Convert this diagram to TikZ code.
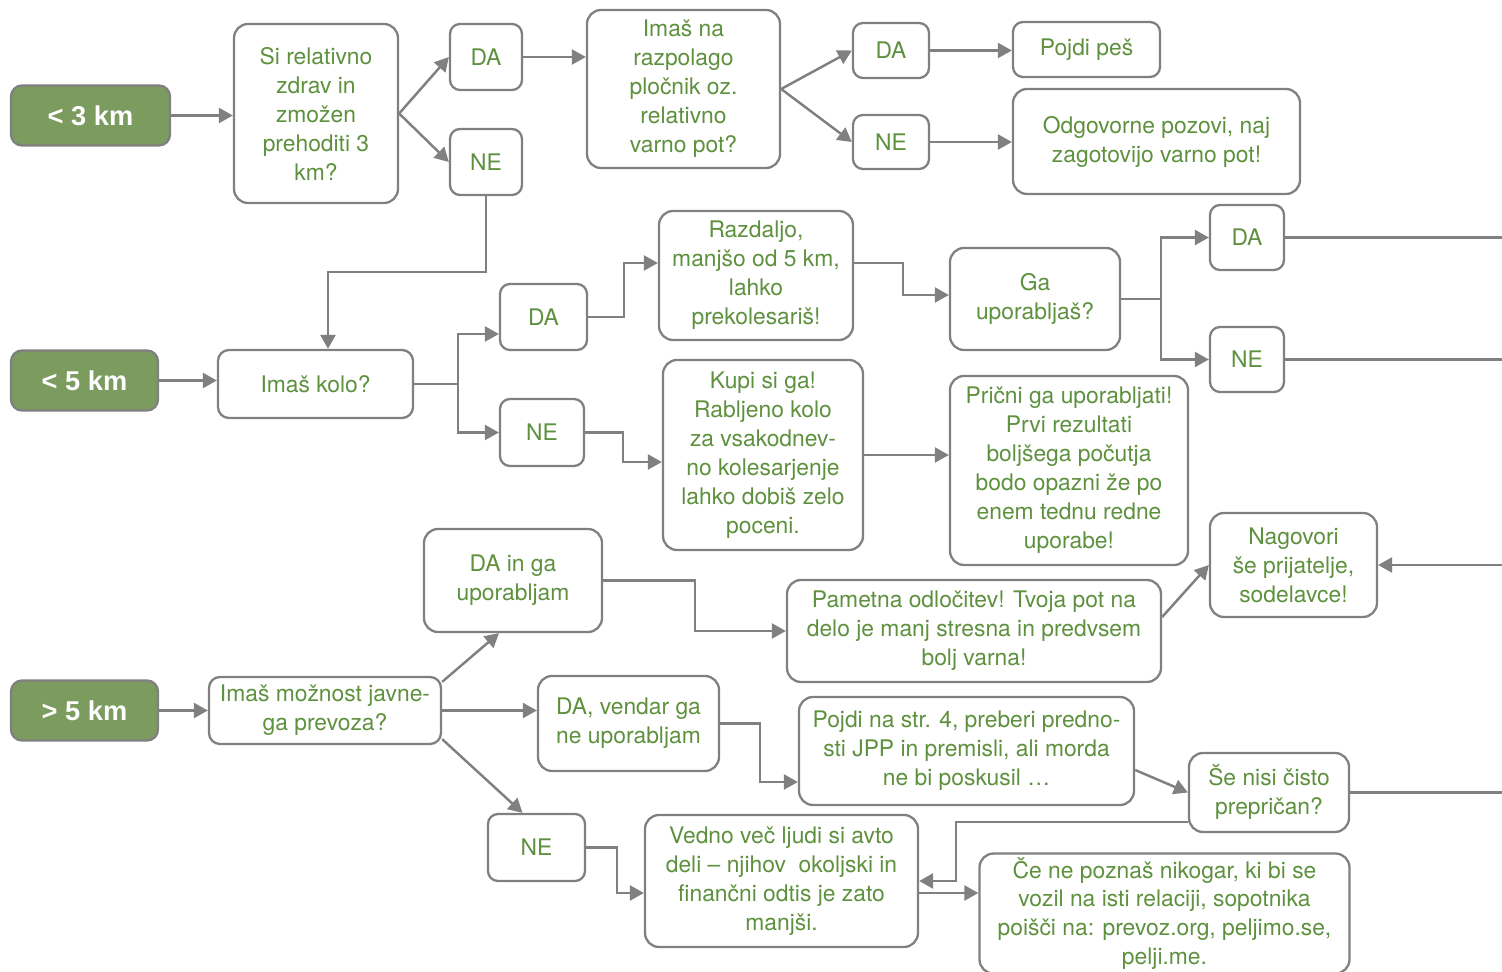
\documentclass[tikz,border=0pt]{standalone}
\usepackage{fontspec}
\setmainfont{TeX Gyre Heros}
\newfontfamily\kmfont{Liberation Sans}
\usetikzlibrary{arrows.meta}
\definecolor{txtgreen}{RGB}{94,145,62}
\definecolor{kmgreen}{RGB}{123,155,95}
\definecolor{linegray}{RGB}{128,128,128}
\begin{document}
\begin{tikzpicture}[x=0.02cm, y=-0.02cm,
	box/.style={draw=linegray, line width=1.3pt, rounded corners=0.28cm, fill=white, text=txtgreen, align=center, inner sep=2pt, font=\fontsize{13}{16.5}\selectfont},
	kmbox/.style={box, fill=kmgreen, text=white, font=\kmfont\fontsize{15.5}{18}\selectfont\bfseries, rounded corners=0.22cm},
	sz/.style 2 args={minimum width=#1*0.02cm, minimum height=#2*0.02cm},
	link/.style={draw=linegray, line width=1.4pt},
	arr/.style={link, -{Triangle[length=0.28cm, width=0.3cm]}}]
	\useasboundingbox (0,0) rectangle (1502,972);
	\coordinate (rim) at (1502,0);
	
	\foreach \nm/\w/\y/\d in {kmA/159/115.5/< 3, kmB/147/380.5/< 5, kmC/147/710.5/> 5}
	{
		\node[kmbox, sz={\w}{60}] (\nm) at (11+\w/2,\y) {\d~km};
	}
	
	\foreach \nm/\x/\y/\w/\h/\t in {da1/486/57/72/66/DA, ne1/486/162/72/66/NE, da2/891/50.5/76/55/DA, ne2/891/142/76/54/NE, da3/543.5/317/87/66/DA, ne3/542/432.5/84/67/NE, da4/1247/237.5/74/65/DA, ne4/1247/359.5/74/65/NE, ne5/536.5/847.5/97/67/NE}
	{
		\node[box, sz={\w}{\h}, rounded corners=0.2cm] (\nm) at (\x,\y) {\t};
	}
	
	\node[box, sz={164}{179}] (q1) at (316,113.5) {Si relativno\\zdrav in\\zmožen\\prehoditi 3\\km?};
	\node[box, sz={193}{158}] (q2) at (683.5,89) {Imaš na\\razpolago\\pločnik oz.\\relativno\\varno pot?};
	\node[box, sz={147}{55}, rounded corners=0.2cm] (pes) at (1086.5,49.5) {Pojdi peš};
	\node[box, sz={287}{105}] (pozovi) at (1156.5,141.5) {Odgovorne pozovi, naj\\zagotovijo varno pot!};
	
	\node[box, sz={195}{68}, rounded corners=0.22cm] (kolo) at (315.5,384) {Imaš kolo?};
	\node[box, sz={194}{129}] (razd) at (756,275.5) {Razdaljo,\\manjšo od 5 km,\\lahko\\prekolesariš!};
	\node[box, sz={200}{190}] (kupi) at (763,455) {Kupi si ga!\\Rabljeno kolo\\za vsakodnev-\\no kolesarjenje\\lahko dobiš zelo\\poceni.};
	\node[box, sz={170}{102}] (gaupo) at (1035,299) {Ga\\uporabljaš?};
	\node[box, sz={238}{189}] (pricni) at (1069,470.5) {Prični ga uporabljati!\\Prvi rezultati\\boljšega počutja\\bodo opazni že po\\enem tednu redne\\uporabe!};
	
	\node[box, sz={232}{67}, rounded corners=0.22cm] (javni) at (325,710.5) {Imaš možnost javne-\\ga prevoza?};
	\node[box, sz={178}{103}] (dain) at (513,580.5) {DA in ga\\uporabljam};
	\node[box, sz={181}{95}] (davend) at (628.5,723.5) {DA, vendar ga\\ne uporabljam};
	\node[box, sz={374}{102}] (pametna) at (974,631) {Pametna odločitev! Tvoja pot na\\delo je manj stresna in predvsem\\bolj varna!};
	\node[box, sz={167}{104}] (nagovori) at (1293.5,565) {Nagovori\\še prijatelje,\\sodelavce!};
	\node[box, sz={335}{108}] (jpp) at (966.5,751) {Pojdi na str. 4, preberi predno-\\sti JPP in premisli, ali morda\\ne bi poskusil …};
	\node[box, sz={160}{79}] (nisi) at (1269,792.5) {Še nisi čisto\\prepričan?};
	\node[box, sz={273}{132}] (vedno) at (781.5,881) {Vedno več ljudi si avto\\deli – njihov~ okoljski in\\finančni odtis je zato\\manjši.};
	\node[box, sz={370}{113}] (cene) at (1164.5,913.5) {Če ne poznaš nikogar, ki bi se\\vozil na isti relaciji, sopotnika\\poišči na: prevoz.org, peljimo.se,\\pelji.me.};
	
	\draw[arr] (kmA.east) -- (kmA.east -| q1.west);
	\draw[arr] (q1.east) -- (da1.west);
	\draw[arr] (q1.east) -- (ne1.west);
	\draw[arr] (da1.east) -- (da1.east -| q2.west);
	\draw[arr] (q2.east) -- (da2.west);
	\draw[arr] (q2.east) -- (ne2.west);
	\draw[arr] (da2.east) -- (da2.east -| pes.west);
	\draw[arr] (ne2.east) -- (ne2.east -| pozovi.west);
	\draw[arr] (ne1.south) -- ++(0,76) -| ([xshift=0.25cm]kolo.north);
	
	\draw[arr] (kmB.east) -- (kmB.east -| kolo.west);
	\draw[arr] (kolo.east) -- ++(44,0) |- ([yshift=-0.34cm]da3.west);
	\draw[arr] (kolo.east) -- ++(44,0) |- (ne3.west);
	\draw[arr] (da3.east) -- ++(36,0) |- ([yshift=0.25cm]razd.west);
	\draw[arr] (ne3.east) -- ++(38,0) |- ([yshift=-0.14cm]kupi.west);
	\draw[arr] ([yshift=0.25cm]razd.east) -- ++(49,0) |- ([yshift=0.08cm]gaupo.west);
	\draw[arr] (gaupo.east) -- ++(40,0) |- (da4.west);
	\draw[arr] (gaupo.east) -- ++(40,0) |- (ne4.west);
	\draw[arr] (kupi.east) -- (kupi.east -| pricni.west);
	\draw[link] (da4.east) -- (da4.east -| rim);
	\draw[link] (ne4.east) -- (ne4.east -| rim);
	
	\draw[arr] (kmC.east) -- (kmC.east -| javni.west);
	\draw[arr] ([yshift=-0.12cm]javni.north east) -- ([xshift=-0.28cm]dain.south);
	\draw[arr] (javni.east) -- (javni.east -| davend.west);
	\draw[arr] ([yshift=0.12cm]javni.south east) -- ([xshift=-0.28cm]ne5.north);
	\draw[arr] (dain.east) -- ++(92,0) |- (pametna.west);
	\draw[arr] ([yshift=0.28cm]pametna.east) -- (nagovori.west);
	\draw[arr] (nagovori.east -| rim) -- (nagovori.east);
	\draw[arr] (davend.east) -- ++(40,0) |- ([yshift=-0.62cm]jpp.west);
	\draw[arr] ([yshift=-0.38cm]jpp.east) -- (nisi.west);
	\draw[link] (nisi.east) -- (nisi.east -| rim);
	\draw[arr] ([yshift=-0.59cm]nisi.west) -- ++(-232,0) |- (vedno.east);
	\draw[arr] (ne5.east) -- ++(31,0) |- ([yshift=-0.24cm]vedno.west);
	\draw[arr] ([yshift=-0.24cm]vedno.east) -- ([yshift=-0.24cm]vedno.east -| cene.west);
\end{tikzpicture}
\end{document}
